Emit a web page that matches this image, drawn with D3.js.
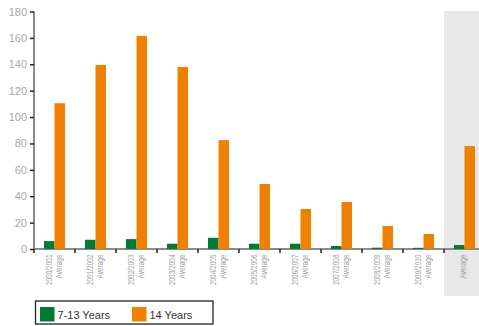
<!DOCTYPE html>
<html>
<head>
<meta charset="utf-8">
<script src="https://cdn.jsdelivr.net/npm/d3@7"></script>
<style>
  html, body { margin: 0; padding: 0; background: #fff; overflow: hidden; }
  svg { display: block; font-family: "Liberation Sans", Arial, sans-serif; }
</style>
</head>
<body>
<svg id="chart" width="479" height="326"></svg>
<script>
// Seasons (first label line) and the second label line
const seasons = ["2000/2001", "2001/2002", "2002/2003", "2003/2004", "2004/2005",
                 "2005/2006", "2006/2007", "2007/2008", "2008/2009", "2009/2010", ""];
const subLabels = ["Average", "Average", "Average", "Average", "Average",
                   "Average", "Average", "Average", "Average", "Average", "Average"];
const seriesNames = ["7-13 Years", "14 Years"];
const youngValues = [6, 7, 7.5, 4, 8.5, 4, 4, 2.3, 1, 0.9, 3];
const olderValues = [110.5, 139.5, 161.5, 138, 82.5, 49.3, 30.3, 35.6, 17.4, 11.4, 78];
const yTicks = [0, 20, 40, 60, 80, 100, 120, 140, 160, 180];
const colors = ["#007a35", "#f08100"];

const svg = d3.select("#chart");
const x0 = 34, y0 = 249;

const keys = seasons.map((s, i) => i);
const x = d3.scaleBand().domain(keys).range([x0, 485]).paddingInner(0).paddingOuter(0);
const xs = d3.scaleBand().domain([0, 1]).range([0, x.bandwidth()]).paddingInner(0).paddingOuter(0.95);
const y = d3.scaleLinear().domain([0, 180]).range([y0, 11.5]);

// shaded overall-average column
svg.append("rect")
  .attr("x", x(10)).attr("y", 11)
  .attr("width", x.bandwidth()).attr("height", 296 - 11)
  .attr("fill", "#e8e8e8");

// y axis
const yAxis = d3.axisLeft(y).tickValues(yTicks).tickSize(4).tickPadding(3);
const gy = svg.append("g").attr("transform", `translate(${x0},0)`).call(yAxis);
gy.select(".domain").attr("stroke", "#8a8a8a").attr("stroke-width", 2).attr("d", `M0,${y(180)}V${y0}`);
gy.selectAll(".tick line").attr("stroke", "#222").attr("stroke-width", 1.5);
gy.selectAll(".tick text").attr("fill", "#a8a8a8").attr("font-size", 11)
  .attr("font-family", "Liberation Sans, Arial, sans-serif");

// x axis baseline and tick marks at band edges
const xAxis = d3.axisBottom(x).tickSize(0).tickFormat("");
const gx = svg.append("g").attr("transform", `translate(0,${y0})`).call(xAxis);
gx.select(".domain").attr("stroke", "#8a8a8a").attr("stroke-width", 2).attr("d", `M${x0},0H479`);
gx.selectAll(".tick").remove();
gx.selectAll(".edge").data(keys).join("line")
  .attr("class", "edge")
  .attr("x1", d => x(d)).attr("x2", d => x(d))
  .attr("y1", 0).attr("y2", 4)
  .attr("stroke", "#222").attr("stroke-width", 1.5);

// bars, drawn over the baseline
const groups = svg.append("g").selectAll("g")
  .data(keys).join("g")
  .attr("transform", d => `translate(${x(d)},0)`);

groups.append("rect")
  .attr("x", xs(0)).attr("width", xs.bandwidth())
  .attr("y", d => y(youngValues[d])).attr("height", d => y0 - y(youngValues[d]))
  .attr("fill", colors[0]);
groups.append("rect")
  .attr("x", xs(1)).attr("width", xs.bandwidth())
  .attr("y", d => y(olderValues[d])).attr("height", d => y0 - y(olderValues[d]))
  .attr("fill", colors[1]);

// rotated category labels
const labelG = svg.append("g").attr("fill", "#a0a0a0").attr("font-size", 9);
keys.forEach(i => {
  const lines = seasons[i] ? [[seasons[i], 15.5], [subLabels[i], 25.5]] : [[subLabels[i], 19.5]];
  lines.forEach(([txt, off]) => {
    labelG.append("text")
      .attr("transform", `translate(${x(i) + off},254.5) rotate(-90) scale(0.72,1)`)
      .attr("text-anchor", "end")
      .attr("dominant-baseline", "central")
      .text(txt);
  });
});

// legend
const lg = svg.append("g");
lg.append("rect").attr("x", 35.5).attr("y", 301).attr("width", 177.5).attr("height", 23)
  .attr("fill", "#fff").attr("stroke", "#222").attr("stroke-width", 1.3);
const legendX = [40, 132];
seriesNames.forEach((name, i) => {
  lg.append("rect").attr("x", legendX[i]).attr("y", 307).attr("width", 14.5).attr("height", 14.5)
    .attr("fill", colors[i]);
  lg.append("text").attr("x", legendX[i] + 17.5).attr("y", 318.5)
    .attr("font-size", 11).attr("fill", "#333").text(name);
});
</script>
</body>
</html>
